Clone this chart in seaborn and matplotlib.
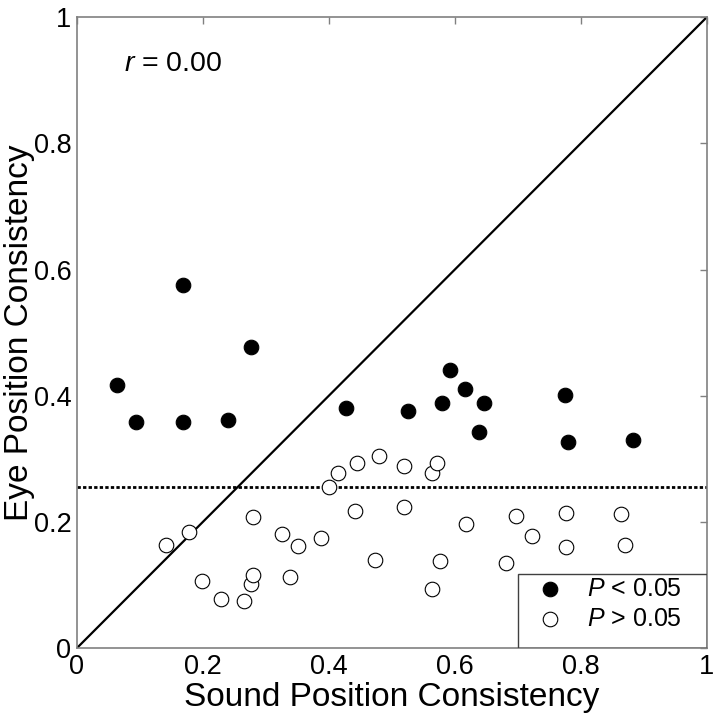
import matplotlib
matplotlib.use("Agg")
import matplotlib.pyplot as plt
from matplotlib.patches import Rectangle
import seaborn as sns
import numpy as np
import pandas as pd

# significant cells (P < 0.05)
sig_sound = [0.063, 0.094, 0.168, 0.168, 0.240, 0.276, 0.427, 0.525,
             0.580, 0.593, 0.616, 0.638, 0.647, 0.775, 0.780, 0.883]
sig_eye = [0.417, 0.358, 0.359, 0.575, 0.361, 0.477, 0.381, 0.376,
           0.388, 0.441, 0.410, 0.342, 0.388, 0.401, 0.326, 0.330]

# non significant cells (P > 0.05)
ns_sound = [0.142, 0.178, 0.199, 0.228, 0.265, 0.276, 0.280, 0.279,
            0.326, 0.339, 0.351, 0.387, 0.400, 0.415, 0.441, 0.445,
            0.473, 0.480, 0.519, 0.519, 0.563, 0.572, 0.563, 0.577,
            0.617, 0.681, 0.697, 0.722, 0.776, 0.776, 0.864, 0.871]
ns_eye = [0.163, 0.184, 0.106, 0.077, 0.074, 0.101, 0.115, 0.208,
          0.181, 0.112, 0.162, 0.175, 0.256, 0.278, 0.218, 0.294,
          0.139, 0.304, 0.289, 0.223, 0.278, 0.294, 0.094, 0.138,
          0.197, 0.134, 0.210, 0.178, 0.214, 0.160, 0.212, 0.164]

threshold = 0.256
r_value = 0.00
ticks = [0, 0.2, 0.4, 0.6, 0.8, 1]
tick_labels = ["0", "0.2", "0.4", "0.6", "0.8", "1"]

sns.set_style("white")
plt.rcParams['font.family'] = ['Liberation Sans', 'DejaVu Sans']
plt.rcParams['mathtext.fontset'] = 'custom'
plt.rcParams['mathtext.rm'] = 'Liberation Sans'
plt.rcParams['mathtext.it'] = 'Liberation Sans:italic'
plt.rcParams['text.color'] = 'black'
plt.rcParams['axes.labelcolor'] = 'black'

sig_df = pd.DataFrame({'sound': sig_sound, 'eye': sig_eye})
ns_df = pd.DataFrame({'sound': ns_sound, 'eye': ns_eye})

fig = plt.figure(figsize=(7.16, 7.2), dpi=100)
ax = fig.add_axes([0.1075, 0.1, 0.8795, 0.876])

ax.plot([0, 1], [0, 1], color='black', lw=1.6, zorder=1)
ax.axhline(threshold, color='black', lw=2, linestyle=(0, (1.2, 0.8)), zorder=1)

sns.scatterplot(data=sig_df, x='sound', y='eye', ax=ax, s=110, color='black',
                edgecolor='black', linewidth=0.8, label=r'$\mathit{P}$ < 0.05', zorder=3)
sns.scatterplot(data=ns_df, x='sound', y='eye', ax=ax, s=110, facecolor='white',
                edgecolor='black', linewidth=0.8, label=r'$\mathit{P}$ > 0.05', zorder=3)

ax.set_xlim(0, 1)
ax.set_ylim(0, 1)
ax.set_xticks(ticks)
ax.set_xticklabels(tick_labels)
ax.set_yticks(ticks)
ax.set_yticklabels(tick_labels)
ax.tick_params(direction='in', length=5, width=1, color='#808080',
               labelcolor='black', top=True, right=True, labelsize=19.5, pad=4)
for sp in ax.spines.values():
    sp.set_color('#808080')
    sp.set_linewidth(1.2)

ax.set_xlabel('Sound Position Consistency', fontsize=24, labelpad=2)
ax.set_ylabel('Eye Position Consistency', fontsize=24)
ax.yaxis.set_label_coords(-0.066, 0.5)

ax.text(0.075, 0.915, r'$\mathit{r}$ = ' + f'{r_value:.2f}', fontsize=20.5,
        transform=ax.transData)

# MATLAB style legend box in the lower right corner
ax.add_patch(Rectangle((0.701, 0), 0.299, 0.117, transform=ax.transAxes,
                       fill=False, edgecolor='#404040', lw=1, zorder=4))
leg = ax.legend(loc='upper left', bbox_to_anchor=(0.701, 0.123),
                borderaxespad=0, frameon=False,
                fontsize=18, handletextpad=0.5, borderpad=0.25,
                labelspacing=0.25, handlelength=2.0, markerscale=1.0)

fig.savefig('out.png', dpi=100)
